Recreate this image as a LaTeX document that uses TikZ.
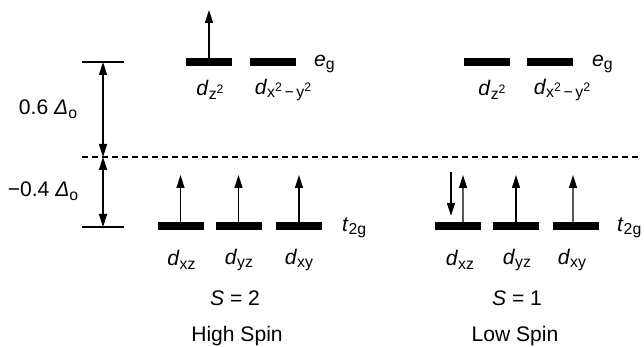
\documentclass[tikz,border=0pt]{standalone}
\usepackage{fontspec}
\setmainfont{Liberation Sans}
\usetikzlibrary{arrows.meta, positioning, calc}
\tikzset{
    level/.style={rectangle, fill=black, minimum width=0.92cm, minimum height=0.15cm, inner sep=0pt},
    lbl/.style={font=\fontsize{12}{14}\selectfont, inner sep=1pt},
    spin/.style={-{Triangle[length=2.6mm, width=1.6mm]}, line width=0.8pt},
    gap/.style={{Triangle[length=2.6mm, width=1.6mm]}-{Triangle[length=2.6mm, width=1.6mm]}, line width=0.8pt},
    tickline/.style={line width=0.6pt},
    zeroline/.style={dash pattern=on 1.2mm off 0.8mm, line width=0.6pt},
}
\newcommand{\lowr}[1]{\raisebox{-0.32ex}{\fontsize{9}{10}\selectfont #1}}
\newcommand{\sqr}{\raisebox{0.7ex}{\fontsize{7}{8}\selectfont 2}}
\newcommand{\orbital}[1]{\textit{d}\lowr{#1}}

\begin{document}
\begin{tikzpicture}
    \useasboundingbox (0,0) rectangle (12.88,6.94);

    % ── Splitting scale ────────────────────────────────────────────
    \coordinate (top) at (2.06, 5.70);
    \coordinate (mid) at (2.06, 3.80);
    \coordinate (bot) at (2.06, 2.40);
    \coordinate (zl)  at (1.64, 3.80);
    \coordinate (zr)  at (12.80, 3.80);

    \draw[tickline] ([xshift=-0.42cm]top) -- ([xshift=0.42cm]top);
    \draw[tickline] ([xshift=-0.42cm]bot) -- ([xshift=0.42cm]bot);
    \draw[zeroline] (zl) -- (zr);
    \draw[gap] (top) -- (mid);
    \draw[gap] (mid) -- (bot);

    \node[lbl] (up)   at (0.96, 4.76) {0.6 \textit{Δ}\lowr{o}};
    \node[lbl] (down) at (0.86, 3.12) {−0.4 \textit{Δ}\lowr{o}};

    % ── High spin levels ───────────────────────────────────────────
    \node[level] (hz)  at (4.18, 5.70) {};
    \node[level] (hx)  at (5.46, 5.70) {};
    \node[level] (hxz) at (3.61, 2.42) {};
    \node[level] (hyz) at (4.77, 2.42) {};
    \node[level] (hxy) at (5.98, 2.42) {};

    \node[lbl, anchor=west] (heg)  at (6.24, 5.66) {\textit{e}\lowr{g}};
    \node[lbl, anchor=west] (ht2g) at (6.80, 2.38) {\textit{t}\lowr{2g}};

    \node[lbl] (lhz)  at (4.20, 5.14) {\orbital{z\sqr}};
    \node[lbl] (lhx)  at (5.66, 5.14) {\orbital{x\sqr\,−\,y\sqr}};
    \node[lbl] (lhxz) at (3.63, 1.74) {\orbital{xz}};
    \node[lbl] (lhyz) at (4.78, 1.74) {\orbital{yz}};
    \node[lbl] (lhxy) at (5.98, 1.74) {\orbital{xy}};

    \node[lbl] (hs)    at (4.70, 0.98) {\textit{S} = 2};
    \node[lbl] (hname) at (4.74, 0.22) {High Spin};

    % ── High spin electrons ────────────────────────────────────────
    \coordinate (hzup)  at (4.18, 6.74);
    \coordinate (hxzup) at (3.61, 3.44);
    \coordinate (hyzup) at (4.77, 3.44);
    \coordinate (hxyup) at (5.98, 3.44);

    \draw[spin] (hz.north)  -- (hzup);
    \draw[spin] (hxz.north) -- (hxzup);
    \draw[spin] (hyz.north) -- (hyzup);
    \draw[spin] (hxy.north) -- (hxyup);

    % ── Low spin levels ────────────────────────────────────────────
    \node[level] (lz)  at (9.73, 5.70) {};
    \node[level] (lx)  at (11.00, 5.70) {};
    \node[level] (lxz) at (9.16, 2.42) {};
    \node[level] (lyz) at (10.32, 2.42) {};
    \node[level] (lxy) at (11.52, 2.42) {};

    \node[lbl, anchor=west] (leg)  at (11.80, 5.66) {\textit{e}\lowr{g}};
    \node[lbl, anchor=west] (lt2g) at (12.30, 2.38) {\textit{t}\lowr{2g}};

    \node[lbl] (llz)  at (9.84, 5.14) {\orbital{z\sqr}};
    \node[lbl] (llx)  at (11.24, 5.14) {\orbital{x\sqr\,−\,y\sqr}};
    \node[lbl] (llxz) at (9.20, 1.74) {\orbital{xz}};
    \node[lbl] (llyz) at (10.34, 1.74) {\orbital{yz}};
    \node[lbl] (llxy) at (11.44, 1.74) {\orbital{xy}};

    \node[lbl] (ls)    at (10.34, 0.98) {\textit{S} = 1};
    \node[lbl] (lname) at (10.30, 0.22) {Low Spin};

    % ── Low spin electrons ─────────────────────────────────────────
    \coordinate (lxzdn) at (9.02, 3.50);
    \coordinate (lxzup) at (9.26, 3.44);
    \coordinate (lyzup) at (10.32, 3.44);
    \coordinate (lxyup) at (11.46, 3.44);

    \draw[spin] (lxzdn) -- ([xshift=-0.14cm, yshift=0.12cm]lxz.north);
    \draw[spin] ([xshift=0.10cm]lxz.north) -- (lxzup);
    \draw[spin] (lyz.north) -- (lyzup);
    \draw[spin] ([xshift=-0.06cm]lxy.north) -- (lxyup);

\end{tikzpicture}
\end{document}
